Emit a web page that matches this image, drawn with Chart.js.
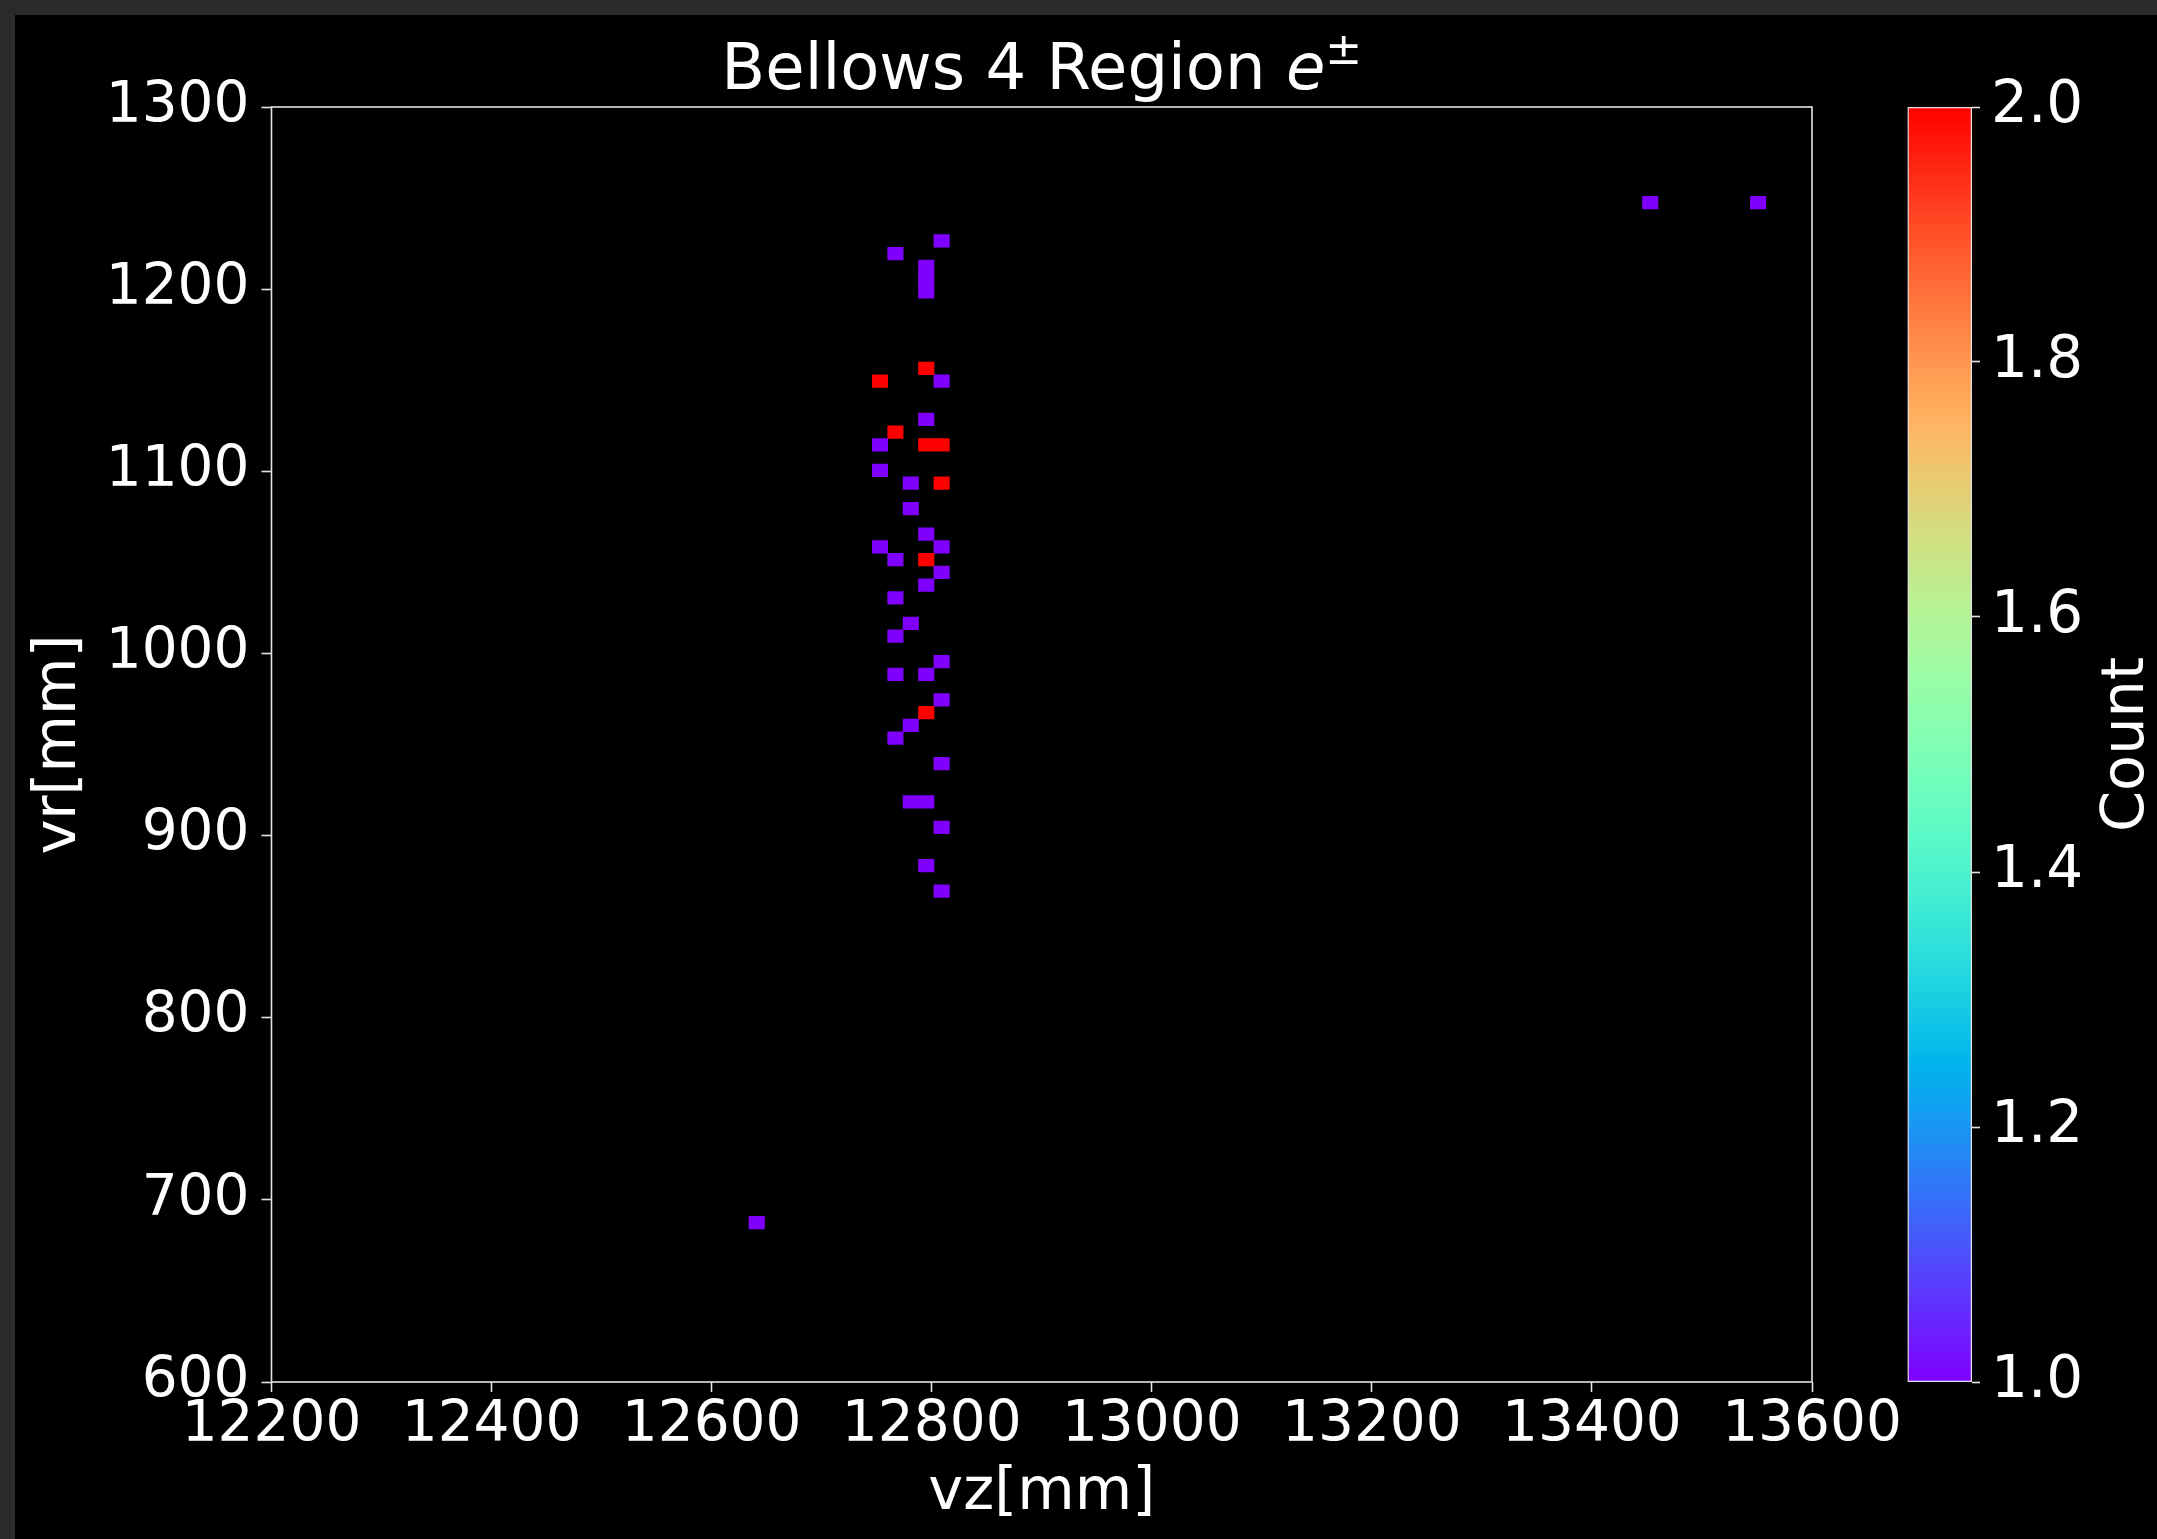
<!DOCTYPE html>
<html>
<head>
<meta charset="utf-8">
<script src="https://cdn.jsdelivr.net/npm/chart.js@4.4.1/dist/chart.umd.min.js"></script>
<style>
  html, body { margin: 0; padding: 0; background: #2b2a2b; overflow: hidden; }
  #fondo { position: absolute; left: 15px; top: 15px; width: 2142px; height: 1524px; background: #000; }
  #principal { position: absolute; left: 0; top: 0; width: 2157px; height: 1539px; }
  #barra { position: absolute; left: 1880px; top: 0; width: 277px; height: 1539px; }
</style>
</head>
<body>
<div id="fondo"></div>
<div id="principal"><canvas id="histograma"></canvas></div>
<div id="barra"><canvas id="colorbar"></canvas></div>
<script>
// centros de los bins con cuentas (mm)
const vz = [12809, 12767, 12795, 12795, 12795, 12795, 12753, 12809, 12795, 12767,
            12753, 12795, 12809, 12753, 12781, 12809, 12781, 12795, 12753, 12809,
            12767, 12795, 12809, 12795, 12767, 12781, 12767, 12809, 12767, 12795,
            12809, 12795, 12781, 12767, 12809, 12781, 12795, 12809, 12795, 12809,
            12641, 13453, 13551];
const vr = [1226.5, 1219.5, 1212.5, 1205.5, 1198.5, 1156.5, 1149.5, 1149.5, 1128.5, 1121.5,
            1114.5, 1114.5, 1114.5, 1100.5, 1093.5, 1093.5, 1079.5, 1065.5, 1058.5, 1058.5,
            1051.5, 1051.5, 1044.5, 1037.5, 1030.5, 1016.5, 1009.5, 995.5, 988.5, 988.5,
            974.5, 967.5, 960.5, 953.5, 939.5, 918.5, 918.5, 904.5, 883.5, 869.5,
            687.5, 1247.5, 1247.5];
const cuentas = [1, 1, 1, 1, 1, 2, 2, 1, 1, 2,
                 1, 2, 2, 1, 1, 2, 1, 1, 1, 1,
                 1, 2, 1, 1, 1, 1, 1, 1, 1, 1,
                 1, 2, 1, 1, 1, 1, 1, 1, 1, 1,
                 1, 1, 1];
const anchoVz = 14;
const anchoVr = 7;

const ticksVz = [12200, 12400, 12600, 12800, 13000, 13200, 13400, 13600];
const ticksVr = [600, 700, 800, 900, 1000, 1100, 1200, 1300];
const ticksCount = [1.0, 1.2, 1.4, 1.6, 1.8, 2.0];
const rangoCount = [1, 2];

Chart.defaults.font.family = '"DejaVu Sans"';
Chart.defaults.color = '#ffffff';

// mapa de color 'rainbow' de matplotlib
function rainbow(t) {
    t = Math.min(1, Math.max(0, t));
    var r = Math.min(1, Math.abs(2 * t - 0.5));
    var g = Math.sin(Math.PI * t);
    var b = Math.max(0, Math.cos(Math.PI * t / 2));
    return 'rgb(' + Math.round(r * 255) + ',' + Math.round(g * 255) + ',' + Math.round(b * 255) + ')';
}
function colorDe(c) {
    return rainbow((c - rangoCount[0]) / (rangoCount[1] - rangoCount[0]));
}

const colorEje = '#e4e4e4';
const tamTicks = 56.5;

const marco = {
    id: 'marco',
    afterDraw(chart) {
        const c = chart.ctx, a = chart.chartArea;
        c.save();
        c.strokeStyle = colorEje;
        c.lineWidth = 1.6;
        c.strokeRect(a.left, a.top, a.right - a.left, a.bottom - a.top);
        c.restore();
    }
};

const titulo = {
    id: 'titulo',
    afterDraw(chart) {
        const c = chart.ctx, a = chart.chartArea;
        const partes = [
            { text: 'Bellows 4 Region ', font: '64px "DejaVu Sans"', dy: 0 },
            { text: 'e', font: 'italic 64px "DejaVu Sans"', dy: 0 },
            { text: '\u00b1', font: '44px "DejaVu Sans"', dy: -25 }
        ];
        c.save();
        c.fillStyle = '#ffffff';
        c.textBaseline = 'alphabetic';
        c.textAlign = 'left';
        var total = 0;
        partes.forEach(p => { c.font = p.font; p.w = c.measureText(p.text).width; total += p.w; });
        var x = (a.left + a.right) / 2 - total / 2;
        partes.forEach(p => {
            c.font = p.font;
            c.fillText(p.text, x, 89 + p.dy);
            x += p.w;
        });
        c.restore();
    }
};

const celdas = vz.map((z, i) => ({ x: [z - anchoVz / 2, z + anchoVz / 2], y: vr[i] }));

new Chart(document.getElementById('histograma'), {
    type: 'bar',
    data: {
        datasets: [{
            data: celdas,
            backgroundColor: cuentas.map(colorDe),
            borderWidth: 0,
            barPercentage: 1,
            categoryPercentage: 1
        }]
    },
    options: {
        indexAxis: 'y',
        responsive: true,
        maintainAspectRatio: false,
        animation: false,
        layout: { padding: { left: 0, top: 107, right: 345, bottom: 0 } },
        plugins: {
            legend: { display: false },
            tooltip: { enabled: false }
        },
        scales: {
            x: {
                type: 'linear',
                min: ticksVz[0],
                max: ticksVz[ticksVz.length - 1],
                afterBuildTicks: s => { s.ticks = ticksVz.map(v => ({ value: v })); },
                afterFit: s => { s.height = 157; },
                ticks: {
                    color: '#ffffff',
                    font: { size: tamTicks, lineHeight: 1 },
                    padding: 6,
                    maxRotation: 0,
                    autoSkip: false,
                    callback: v => String(v)
                },
                grid: { drawOnChartArea: false, tickLength: 10, tickColor: colorEje, tickWidth: 1.6 },
                border: { display: false },
                title: {
                    display: true,
                    text: 'vz[mm]',
                    color: '#ffffff',
                    font: { size: 59, lineHeight: 1.2 },
                    padding: { top: 0, bottom: 10 }
                }
            },
            y: {
                type: 'linear',
                min: ticksVr[0],
                max: ticksVr[ticksVr.length - 1],
                offset: false,
                afterBuildTicks: s => { s.ticks = ticksVr.map(v => ({ value: v })); },
                afterFit: s => { s.width = 271.5; },
                ticks: {
                    color: '#ffffff',
                    font: { size: tamTicks },
                    padding: 12,
                    autoSkip: false,
                    callback: v => String(v)
                },
                grid: { drawOnChartArea: false, offset: false, tickLength: 10, tickColor: colorEje, tickWidth: 1.6 },
                border: { display: false },
                title: {
                    display: true,
                    text: 'vr[mm]',
                    color: '#ffffff',
                    font: { size: 59, lineHeight: 1.2 },
                    padding: { top: 24, bottom: 0 }
                }
            }
        }
    },
    plugins: [marco, titulo]
});

// barra de color
const etiquetaCount = {
    id: 'etiquetaCount',
    afterDraw(chart) {
        const c = chart.ctx, a = chart.chartArea;
        c.save();
        c.translate(263, (a.top + a.bottom) / 2);
        c.rotate(-Math.PI / 2);
        c.fillStyle = '#ffffff';
        c.font = '59px "DejaVu Sans"';
        c.textAlign = 'center';
        c.textBaseline = 'alphabetic';
        c.fillText('Count', 0, 0);
        c.restore();
    }
};

new Chart(document.getElementById('colorbar'), {
    type: 'bar',
    data: {
        labels: ['Count'],
        datasets: [{
            data: [rangoCount],
            backgroundColor: function(context) {
                const chart = context.chart;
                const y = chart.scales.y;
                if (!chart.chartArea || !y) return colorDe(rangoCount[0]);
                const g = chart.ctx.createLinearGradient(0, y.getPixelForValue(rangoCount[0]), 0, y.getPixelForValue(rangoCount[1]));
                for (var i = 0; i <= 40; i++) {
                    g.addColorStop(i / 40, rainbow(i / 40));
                }
                return g;
            },
            borderColor: colorEje,
            borderWidth: 1.6,
            borderSkipped: false,
            barPercentage: 1,
            categoryPercentage: 1
        }]
    },
    options: {
        responsive: true,
        maintainAspectRatio: false,
        animation: false,
        layout: { padding: { left: 27.5, top: 107, right: 0, bottom: 157 } },
        plugins: {
            legend: { display: false },
            tooltip: { enabled: false }
        },
        scales: {
            x: { display: false },
            y: {
                type: 'linear',
                position: 'right',
                min: rangoCount[0],
                max: rangoCount[1],
                afterBuildTicks: s => { s.ticks = ticksCount.map(v => ({ value: v })); },
                afterFit: s => { s.width = 185; },
                ticks: {
                    color: '#ffffff',
                    font: { size: 58 },
                    padding: 11,
                    autoSkip: false,
                    callback: v => v.toFixed(1)
                },
                grid: { drawOnChartArea: false, tickLength: 8, tickColor: colorEje, tickWidth: 1.6 },
                border: { display: false }
            }
        }
    },
    plugins: [etiquetaCount]
});
</script>
</body>
</html>
